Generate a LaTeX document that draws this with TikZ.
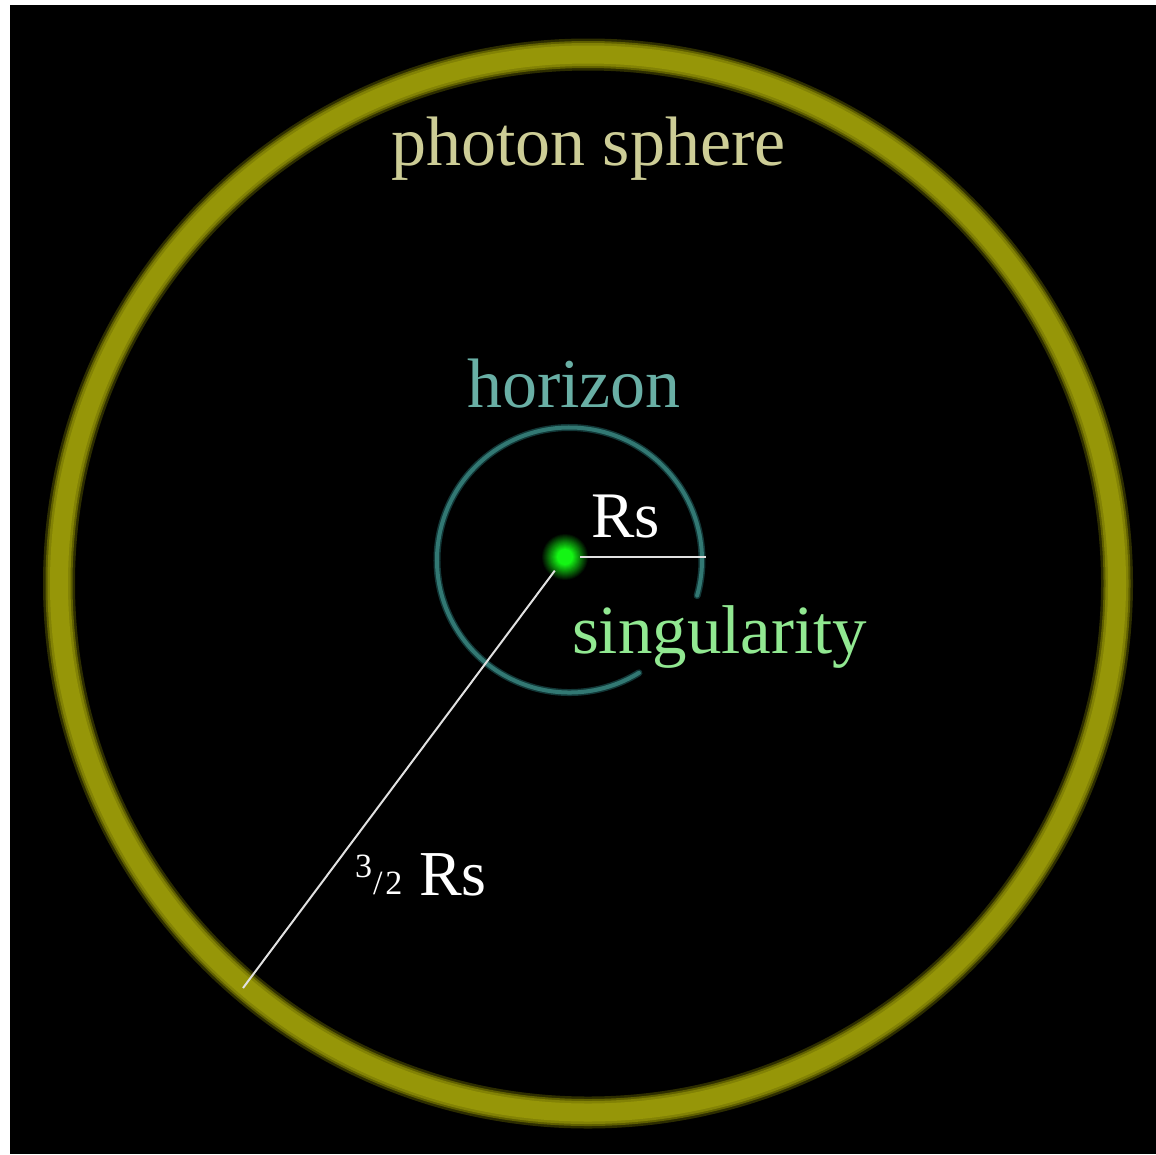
\documentclass[tikz,border=0pt]{standalone}
\usepackage{fontspec}
\setmainfont{Liberation Serif}
\definecolor{ringA}{RGB}{45,45,0}
\definecolor{ringB}{RGB}{95,95,0}
\definecolor{ringC}{RGB}{130,130,5}
\definecolor{ringD}{RGB}{150,150,8}
\definecolor{horA}{RGB}{18,55,55}
\definecolor{horB}{RGB}{50,120,115}
\definecolor{photontext}{RGB}{205,205,150}
\definecolor{hortext}{RGB}{105,175,165}
\definecolor{singtext}{RGB}{145,232,145}
\definecolor{gcore}{RGB}{20,245,20}
\definecolor{linegray}{RGB}{225,225,225}
\tikzset{
  lbl/.style={anchor=base west, inner sep=0pt, outer sep=0pt},
  radline/.style={draw=linegray, line width=2pt},
}
\begin{document}
\begin{tikzpicture}[x=1pt,y=-1pt]
\useasboundingbox (0,0) rectangle (1156,1154);
\fill[white] (0,0) rectangle (1156,1154);
\fill[black] (10,5) rectangle (1156,1154);
% centres
\coordinate (rcen) at (588,583.5);
\coordinate (hcen) at (569.5,560);
\coordinate (rsend) at (706,557);
\coordinate (ringpt) at (243,988);
% photon sphere ring
\draw[ringA, line width=32pt] (rcen) circle[radius=529];
\draw[ringB, line width=27pt] (rcen) circle[radius=529];
\draw[ringC, line width=23pt] (rcen) circle[radius=529];
\draw[ringD, line width=18pt] (rcen) circle[radius=529];
% horizon arc
\draw[horA, line width=7pt, line cap=round] (hcen) ++(58.4:132.5) arc[start angle=58.4, end angle=375.6, radius=132.5];
\draw[horB, line width=4pt, line cap=round] (hcen) ++(58.4:132.5) arc[start angle=58.4, end angle=375.6, radius=132.5];
% singularity
\node[circle, minimum size=30pt, inner sep=0pt] (sing) at (565,557) {};
\foreach \i in {0,...,16}{
  \pgfmathsetmacro{\rr}{24-\i*1.0}
  \pgfmathsetmacro{\pp}{min(100,\i*6.25)}
  \fill[gcore!\pp!black] (sing.center) circle[radius=\rr];
}
% radii
\draw[radline, line width=2.5pt] (sing.east) -- (rsend);
\draw[radline, shorten <=17pt] (sing.center) -- (ringpt);
% labels
\node[lbl, text=photontext, font=\fontsize{70}{70}\selectfont] (ptxt) at (391,165) {photon sphere};
\node[lbl, text=hortext, font=\fontsize{70}{70}\selectfont] (htxt) at (467,407) {horizon};
\node[lbl, text=white, font=\fontsize{65}{65}\selectfont] (rstxt) at (591,537) {Rs};
\node[lbl, text=singtext, font=\fontsize{69}{69}\selectfont] (stxt) at (572,653) {singularity};
\node[lbl, text=white, font=\fontsize{34}{34}\selectfont] (frac) at (355,894) {\raisebox{17pt}{3}\kern1pt/\kern3pt2};
\node[lbl, text=white, font=\fontsize{64}{64}\selectfont] (rs2) at (419,895) {Rs};
\end{tikzpicture}
\end{document}
